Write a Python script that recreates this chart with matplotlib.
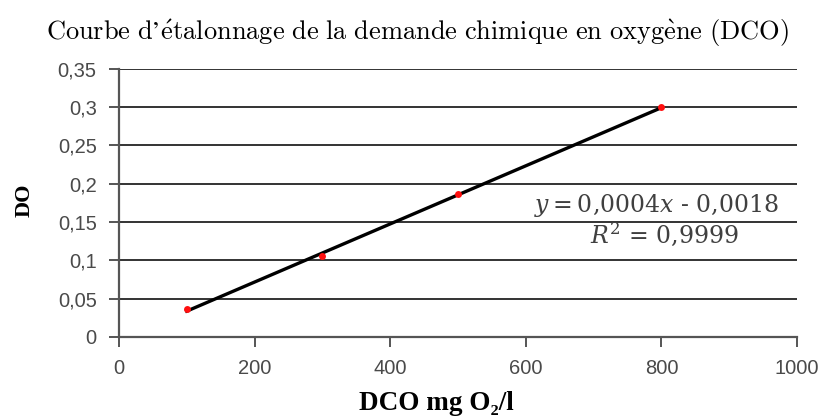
import numpy as np
import matplotlib
matplotlib.use("Agg")
import matplotlib.pyplot as plt
from matplotlib.ticker import FuncFormatter

# Calibration data: COD (mg O2/l) vs optical density
dco = [100, 300, 500, 800]
do = [0.036, 0.106, 0.186, 0.300]

x_ticks = [0, 200, 400, 600, 800, 1000]
y_ticks = [0, 0.05, 0.1, 0.15, 0.2, 0.25, 0.3, 0.35]

title = (r"$\mathrm{Courbe\ d" + "\u2019" + r"\acute{e}talonnage\ de\ la\ demande\ chimique"
         r"\ en\ oxyg\grave{e}ne\ (DCO)}$")
x_label = "DCO mg O\u2082/l"
y_label = "DO"
equation = r"$y = 0{,}0004x$ - $0{,}0018$"
r_squared = r"$R^2$ = $0{,}9999$"

plt.rcParams["mathtext.fontset"] = "dejavuserif"
plt.rcParams["axes.unicode_minus"] = False

fig = plt.figure(figsize=(8.26, 4.17), dpi=100)
ax = fig.add_axes([0.144, 0.192, 0.821, 0.643])

# horizontal gridlines
for yv in y_ticks[1:]:
    ax.axhline(yv, color="#333333", lw=1.4, zorder=1)

# linear trend line across the measured range
slope, intercept = np.polyfit(dco, do, 1)
xs = np.array([min(dco), max(dco)])
ax.plot(xs, slope * xs + intercept, color="black", lw=2.4, zorder=2)
ax.plot(dco, do, "o", color="#ff1010", ms=5, mec="none", zorder=3)

ax.set_xlim(0, 1000)
ax.set_ylim(0, 0.35)
ax.set_xticks(x_ticks)
ax.set_yticks(y_ticks)

def comma(v, pos):
    return f"{v:g}".replace(".", ",")

ax.yaxis.set_major_formatter(FuncFormatter(comma))
ax.xaxis.set_major_formatter(FuncFormatter(lambda v, p: f"{v:g}"))

for side in ("top", "right"):
    ax.spines[side].set_visible(False)
for side in ("left", "bottom"):
    ax.spines[side].set_color("#555555")
    ax.spines[side].set_linewidth(1.6)

ax.tick_params(axis="both", direction="out", length=7, width=1.4, color="#555555",
               labelcolor="#4a4a4a", labelsize=14.5)
ax.tick_params(axis="y", pad=9)
ax.tick_params(axis="x", pad=9)
for lab in ax.get_xticklabels() + ax.get_yticklabels():
    lab.set_family("Liberation Sans")

ax.set_xlabel(x_label, family=["Liberation Serif", "DejaVu Serif"], fontweight="bold",
              fontsize=19.5)
ax.xaxis.set_label_coords(0.468, -0.2)
ax.set_ylabel(y_label, family="Liberation Serif", fontweight="bold", fontsize=16)
ax.yaxis.set_label_coords(-0.125, 0.51)

fig.text(0.505, 0.92, title, math_fontfamily="cm", fontsize=19,
         ha="center", va="center")

ax.text(793, 0.1715, equation, fontsize=17, color="#404040", ha="center", va="center",
        family="DejaVu Serif")
ax.text(805, 0.1345, r_squared, fontsize=17, color="#404040", ha="center", va="center",
        family="DejaVu Serif")

fig.savefig("out.png", dpi=100)
